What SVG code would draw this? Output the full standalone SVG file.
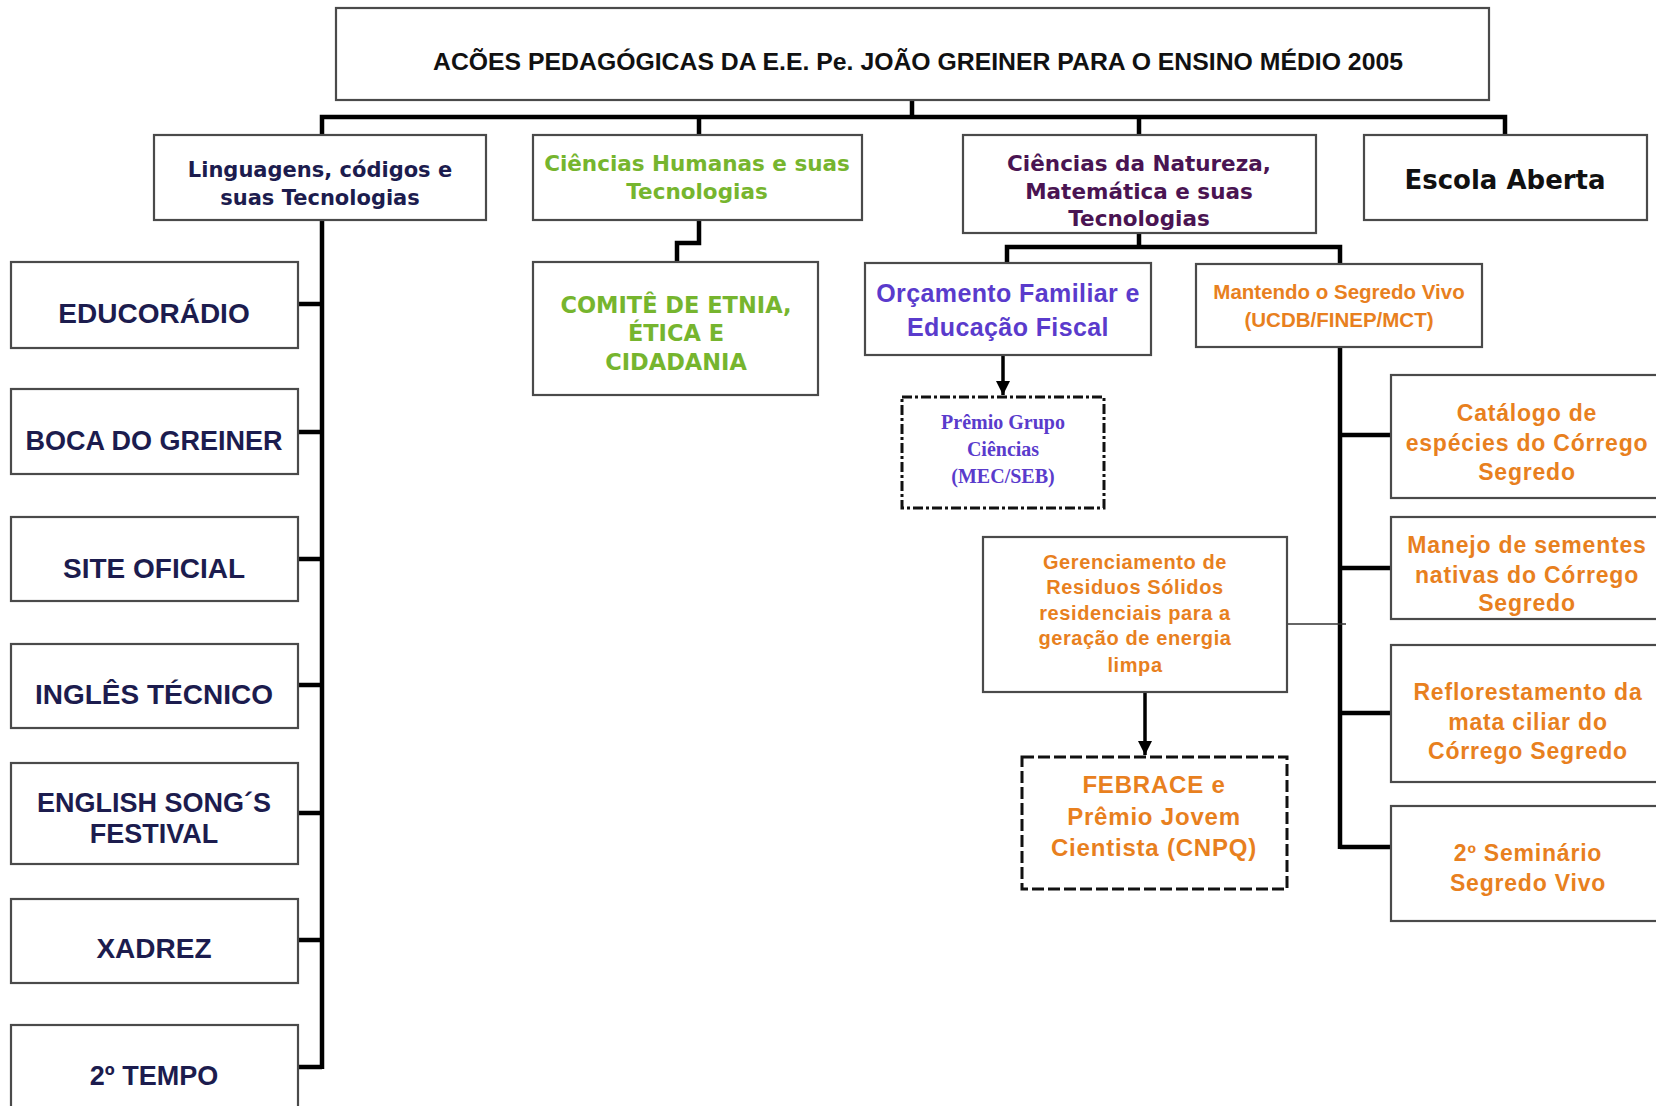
<svg xmlns="http://www.w3.org/2000/svg" width="1656" height="1106" viewBox="0 0 1656 1106">
<style>
.box{fill:#fff;stroke:#4a4a4a;stroke-width:2.2}
.dashdot{fill:#fff;stroke:#111;stroke-width:3;stroke-dasharray:10 3 3 3}
.dash{fill:#fff;stroke:#111;stroke-width:3;stroke-dasharray:12 4}
.bus{fill:none;stroke:#000;stroke-width:4.5;stroke-linejoin:miter}
.thin{fill:none;stroke:#333;stroke-width:1.6}
.arr{fill:none;stroke:#000;stroke-width:3.5}
text{text-anchor:middle;font-weight:bold}
.arial{font-family:"Liberation Sans",Arial,sans-serif}
.verd{font-family:"DejaVu Sans",Verdana,sans-serif}
.serif{font-family:"Liberation Serif","Times New Roman",serif}
.navy{fill:#1c1c4e}
.green{fill:#76b52e}
.purple{fill:#4a1452}
.violet{fill:#5a3bcc}
.orange{fill:#e8801e}
</style>
<defs>
<marker id="ah" viewBox="0 0 10 10" refX="10" refY="5" markerWidth="4" markerHeight="4" markerUnits="strokeWidth" orient="auto">
<path d="M0,0 L10,5 L0,10 z" fill="#000"/>
</marker>
</defs>
<rect width="1656" height="1106" fill="#fff"/>

<g id="connectors">
<path class="bus" d="M912,100 V117 M322,134 V117 H1505 V134 M699,117 V134 M1139,117 V134"/>
<path class="bus" d="M322,220 V1069 M298,304 H322 M298,432 H322 M298,559 H322 M298,685 H322 M298,813 H322 M298,940 H322 M298,1067 H322"/>
<path class="bus" d="M699,220 V243 H677 V262"/>
<path class="bus" d="M1139,233 V247 M1007,263 V247 H1340 V264"/>
<path class="bus" d="M1340,347 V849 M1340,435 H1391 M1340,568 H1391 M1340,713 H1391 M1340,847 H1391"/>
<path class="thin" d="M1287,624 H1346"/>
<path class="arr" d="M1003,355 V395" marker-end="url(#ah)"/>
<path class="arr" d="M1145,692 V755" marker-end="url(#ah)"/>
</g>

<g id="title">
<rect class="box" x="336" y="8" width="1153" height="92"/>
<text class="arial" x="918" y="70" font-size="23" fill="#111" textLength="970" lengthAdjust="spacingAndGlyphs">ACÕES PEDAGÓGICAS DA E.E. Pe. JOÃO GREINER PARA O ENSINO MÉDIO 2005</text>
</g>

<g id="linguagens">
<rect class="box" x="154" y="135" width="332" height="85"/>
<text class="verd navy" font-size="21" x="320" y="177">Linguagens, códigos e</text>
<text class="verd navy" font-size="21" x="320" y="205">suas Tecnologias</text>
</g>

<g id="humanas">
<rect class="box" x="533" y="135" width="329" height="85"/>
<text class="verd green" font-size="21.5" x="697" y="171">Ciências Humanas e suas</text>
<text class="verd green" font-size="21.5" x="697" y="199">Tecnologias</text>
</g>

<g id="natureza">
<rect class="box" x="963" y="135" width="353" height="98"/>
<text class="verd purple" font-size="21.5" x="1139" y="171">Ciências da Natureza,</text>
<text class="verd purple" font-size="21.5" x="1139" y="199">Matemática e suas</text>
<text class="verd purple" font-size="21.5" x="1139" y="226">Tecnologias</text>
</g>

<g id="escola">
<rect class="box" x="1364" y="135" width="283" height="85"/>
<text class="verd" font-size="26" x="1505" y="189" fill="#111">Escola Aberta</text>
</g>

<g id="educoradio">
<rect class="box" x="11" y="262" width="287" height="86"/>
<text class="arial navy" font-size="28" x="154" y="323">EDUCORÁDIO</text>
</g>
<g id="boca">
<rect class="box" x="11" y="389" width="287" height="85"/>
<text class="arial navy" font-size="27" x="154" y="450">BOCA DO GREINER</text>
</g>
<g id="site">
<rect class="box" x="11" y="517" width="287" height="84"/>
<text class="arial navy" font-size="28" x="154" y="578">SITE OFICIAL</text>
</g>
<g id="ingles">
<rect class="box" x="11" y="644" width="287" height="84"/>
<text class="arial navy" font-size="28" x="154" y="704">INGLÊS TÉCNICO</text>
</g>
<g id="english">
<rect class="box" x="11" y="763" width="287" height="101"/>
<text class="arial navy" font-size="27" x="154" y="812">ENGLISH SONG´S</text>
<text class="arial navy" font-size="27" x="154" y="843">FESTIVAL</text>
</g>
<g id="xadrez">
<rect class="box" x="11" y="899" width="287" height="84"/>
<text class="arial navy" font-size="28" x="154" y="958">XADREZ</text>
</g>
<g id="segundo-tempo">
<rect class="box" x="11" y="1025" width="287" height="95"/>
<text class="arial navy" font-size="27" x="154" y="1085">2º TEMPO</text>
</g>

<g id="comite">
<rect class="box" x="533" y="262" width="285" height="133"/>
<text class="verd green" font-size="22.5" x="676" y="313">COMITÊ DE ETNIA,</text>
<text class="verd green" font-size="22.5" x="676" y="341">ÉTICA E</text>
<text class="verd green" font-size="22.5" x="676" y="370">CIDADANIA</text>
</g>

<g id="orcamento">
<rect class="box" x="865" y="263" width="286" height="92"/>
<text class="arial violet" font-size="25" letter-spacing="0.4" x="1008" y="302">Orçamento Familiar e</text>
<text class="arial violet" font-size="25" letter-spacing="0.4" x="1008" y="336">Educação Fiscal</text>
</g>

<g id="premio">
<rect class="dashdot" x="902" y="397" width="202" height="111"/>
<text class="serif violet" font-size="20" x="1003" y="429">Prêmio Grupo</text>
<text class="serif violet" font-size="20" x="1003" y="456">Ciências</text>
<text class="serif violet" font-size="20" x="1003" y="483">(MEC/SEB)</text>
</g>

<g id="mantendo">
<rect class="box" x="1196" y="264" width="286" height="83"/>
<text class="arial orange" font-size="20.5" x="1339" y="299">Mantendo o Segredo Vivo</text>
<text class="arial orange" font-size="20.5" x="1339" y="327">(UCDB/FINEP/MCT)</text>
</g>

<g id="gerenciamento">
<rect class="box" x="983" y="537" width="304" height="155"/>
<text class="arial orange" font-size="20" letter-spacing="0.6" x="1135" y="569">Gerenciamento de</text>
<text class="arial orange" font-size="20" letter-spacing="0.6" x="1135" y="594">Residuos Sólidos</text>
<text class="arial orange" font-size="20" letter-spacing="0.6" x="1135" y="620">residenciais para a</text>
<text class="arial orange" font-size="20" letter-spacing="0.6" x="1135" y="645">geração de energia</text>
<text class="arial orange" font-size="20" letter-spacing="0.6" x="1135" y="672">limpa</text>
</g>

<g id="febrace">
<rect class="dash" x="1022" y="757" width="265" height="132"/>
<text class="arial orange" font-size="24" letter-spacing="0.8" x="1154" y="793">FEBRACE e</text>
<text class="arial orange" font-size="24" letter-spacing="0.8" x="1154" y="825">Prêmio Jovem</text>
<text class="arial orange" font-size="24" letter-spacing="0.8" x="1154" y="856">Cientista (CNPQ)</text>
</g>

<g id="catalogo">
<rect class="box" x="1391" y="375" width="270" height="123"/>
<text class="arial orange" font-size="23" letter-spacing="0.8" x="1527" y="421">Catálogo de</text>
<text class="arial orange" font-size="23" letter-spacing="0.8" x="1527" y="451">espécies do Córrego</text>
<text class="arial orange" font-size="23" letter-spacing="0.8" x="1527" y="480">Segredo</text>
</g>

<g id="manejo">
<rect class="box" x="1391" y="517" width="270" height="102"/>
<text class="arial orange" font-size="23" letter-spacing="0.8" x="1527" y="553">Manejo de sementes</text>
<text class="arial orange" font-size="23" letter-spacing="0.8" x="1527" y="583">nativas do Córrego</text>
<text class="arial orange" font-size="23" letter-spacing="0.8" x="1527" y="611">Segredo</text>
</g>

<g id="reflorestamento">
<rect class="box" x="1391" y="645" width="270" height="137"/>
<text class="arial orange" font-size="23" letter-spacing="0.8" x="1528" y="700">Reflorestamento da</text>
<text class="arial orange" font-size="23" letter-spacing="0.8" x="1528" y="730">mata ciliar do</text>
<text class="arial orange" font-size="23" letter-spacing="0.8" x="1528" y="759">Córrego Segredo</text>
</g>

<g id="seminario">
<rect class="box" x="1391" y="806" width="270" height="115"/>
<text class="arial orange" font-size="23" letter-spacing="0.8" x="1528" y="861">2º Seminário</text>
<text class="arial orange" font-size="23" letter-spacing="0.8" x="1528" y="891">Segredo Vivo</text>
</g>
</svg>
